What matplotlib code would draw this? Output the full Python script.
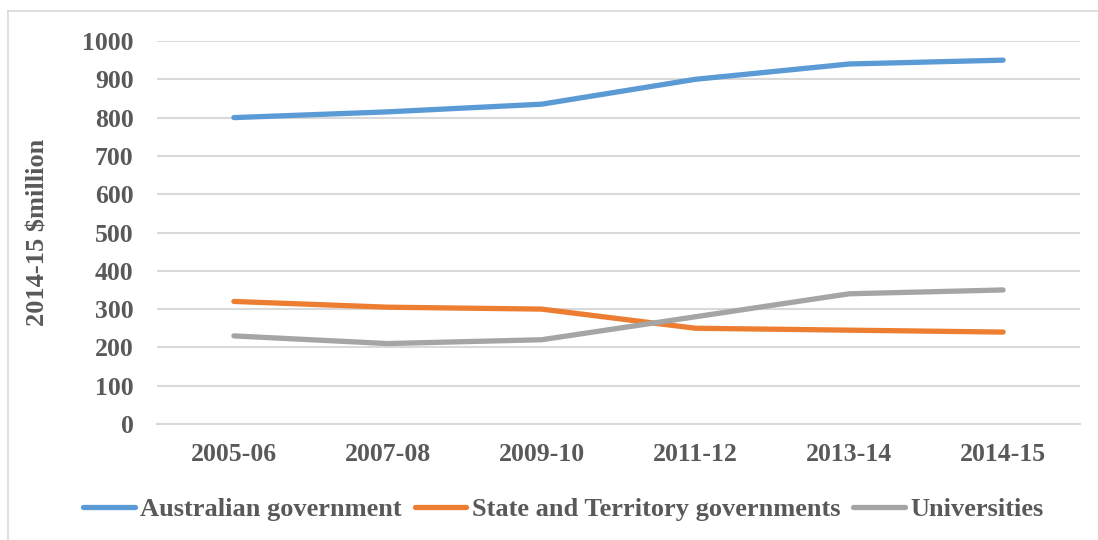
import matplotlib
matplotlib.use("Agg")
import matplotlib.pyplot as plt
from matplotlib.lines import Line2D

years = ["2005-06", "2007-08", "2009-10", "2011-12", "2013-14", "2014-15"]
australian_gov = [800, 815, 835, 900, 940, 950]
state_territory_gov = [320, 305, 300, 250, 245, 240]
universities = [230, 210, 220, 280, 340, 350]
y_ticks = [0, 100, 200, 300, 400, 500, 600, 700, 800, 900, 1000]

series = [
    ("Australian government", australian_gov, "#5b9bd5"),
    ("State and Territory governments", state_territory_gov, "#ed7d31"),
    ("Universities", universities, "#a5a5a5"),
]

text_color = "#595959"
plt.rcParams["font.family"] = ["Liberation Serif", "DejaVu Serif"]
plt.rcParams["font.weight"] = "bold"

W, H = 1098, 540
fig = plt.figure(figsize=(W / 100, H / 100), dpi=100)
ax = fig.add_axes([157 / W, 1 - 424 / H, (1080 - 157) / W, (424 - 41) / H])

x = list(range(len(years)))
handles = []
for name, vals, color in series:
    (ln,) = ax.plot(x, vals, color=color, lw=3.8, solid_capstyle="round",
                    solid_joinstyle="round", label=name, zorder=3)
    handles.append(ln)

ax.set_xlim(-0.5, len(years) - 0.5)
ax.set_ylim(0, 1000)
ax.set_yticks(y_ticks)
ax.set_xticks(x)
ax.set_xticklabels(years)
ax.grid(axis="y", color="#d9d9d9", lw=1.5, zorder=0)
ax.set_axisbelow(True)
for side in ["top", "right", "left"]:
    ax.spines[side].set_visible(False)
ax.spines["bottom"].set_color("#d9d9d9")
ax.spines["bottom"].set_linewidth(1.5)
ax.tick_params(axis="both", length=0, labelsize=18.5, labelcolor=text_color)
ax.tick_params(axis="y", pad=17)
ax.tick_params(axis="x", pad=14)
for lab in ax.get_xticklabels() + ax.get_yticklabels():
    lab.set_fontweight("bold")

ax.set_ylabel("2014-15 $million", fontsize=19, fontweight="bold",
              color=text_color)
ax.yaxis.set_label_coords(-0.117, 0.5)

leg = fig.legend(handles=handles, loc="center", bbox_to_anchor=(0.513, 1 - 509 / H),
                 ncol=3, frameon=False, handlelength=1.95,
                 handletextpad=0.2, columnspacing=0.5,
                 prop={"weight": "bold", "size": 19})
for t in leg.get_texts():
    t.set_color(text_color)

# outer chart frame (left and top edges visible)
frame_kw = dict(color="#d9d9d9", lw=1.2, transform=fig.transFigure)
fig.add_artist(Line2D([8 / W, 8 / W], [0, 1 - 11 / H], **frame_kw))
fig.add_artist(Line2D([8 / W, 1], [1 - 11 / H, 1 - 11 / H], **frame_kw))

fig.savefig("out.png", dpi=100, facecolor="white")
